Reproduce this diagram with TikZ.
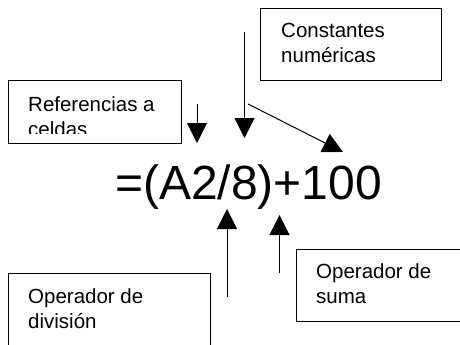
\documentclass[tikz,border=0pt]{standalone}
\usepackage{fontspec}
\setmainfont{Liberation Sans}
\usetikzlibrary{arrows.meta}
\tikzset{
  caja/.style={draw, line width=0.9pt, inner sep=0pt, outer sep=0pt, anchor=north west},
  texto/.style={anchor=base west, align=left, inner sep=0pt, font=\fontsize{20.5}{25}\selectfont},
  flecha/.style={-{Triangle[length=20pt,width=20pt]}, line width=1pt},
}
\begin{document}
\begin{tikzpicture}[x=1pt,y=-1pt]
    \useasboundingbox (0,0) rectangle (460,345);
    \clip (0,0) rectangle (460,345);
    \node[caja, minimum width=181pt, minimum height=72pt] (constantes) at (260,8) {};
    \node[texto] (constantesT) at (281,63) {Constantes\\numéricas};
    \node[caja, minimum width=173pt, minimum height=63pt] (referencias) at (8,80) {};
    \begin{scope}
        \clip (8,80) rectangle (181,133);
        \node[texto] (referenciasT) at (28,136) {Referencias a\\celdas};
    \end{scope}
    \node[caja, minimum width=202pt, minimum height=90pt] (division) at (8,273) {};
    \node[texto] (divisionT) at (28,328) {Operador de\\división};
    \node[caja, minimum width=190pt, minimum height=72pt] (suma) at (296,249) {};
    \node[texto] (sumaT) at (316,303) {Operador de\\suma};
    \node[anchor=base west, inner sep=0pt, font=\fontsize{48}{58}\selectfont] (formula) at (115,199) {=(A2/8)+100};
    \coordinate (r0) at (197,104);
    \coordinate (r1) at (197,143);
    \coordinate (c0) at (244.5,32);
    \coordinate (c1) at (244.5,138);
    \coordinate (c2) at (248,104);
    \coordinate (c3) at (343,152);
    \coordinate (d0) at (227,297);
    \coordinate (d1) at (227,209);
    \coordinate (s0) at (279.5,273);
    \coordinate (s1) at (279.5,215);
    \draw[flecha] (r0) -- (r1);
    \draw[flecha] (c0) -- (c1);
    \draw[flecha] (c2) -- (c3);
    \draw[flecha] (d0) -- (d1);
    \draw[flecha] (s0) -- (s1);
\end{tikzpicture}
\end{document}
